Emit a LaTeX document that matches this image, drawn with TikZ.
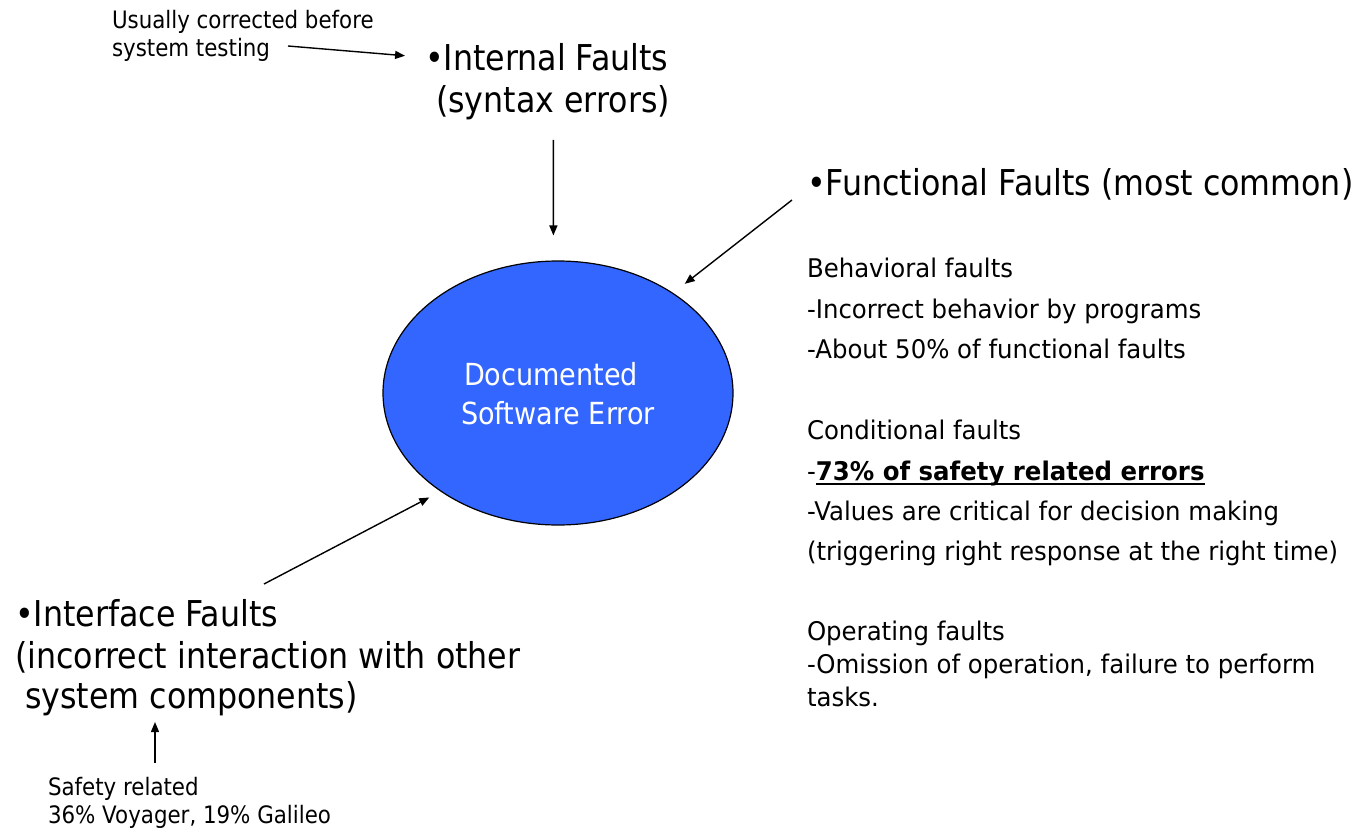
\documentclass[tikz,border=0pt]{standalone}
\usepackage{fontspec}
\setmainfont{DejaVu Sans}[FakeStretch=0.89]
\newfontfamily\wfont{DejaVu Sans}[FakeStretch=0.95]
\usetikzlibrary{shapes.geometric,arrows.meta}
\definecolor{ellblue}{HTML}{3366FF}
\newsavebox{\ulbox}
\newcommand{\myuline}[1]{\sbox{\ulbox}{#1}\rlap{\raisebox{-5pt}{\rule{\wd\ulbox}{2pt}}}\usebox{\ulbox}}
\tikzset{
  txt/.style={inner sep=0pt, outer sep=0pt, anchor=base west},
  bigtxt/.style={txt, font=\fontsize{35.6}{42}\selectfont},
  midtxt/.style={txt, font=\wfont\fontsize{25.7}{30}\selectfont},
  smalltxt/.style={txt, font=\fontsize{24}{28}\selectfont},
  ctrtxt/.style={inner sep=0pt, anchor=base, text=white, font=\fontsize{30.4}{36}\selectfont},
  arr/.style={line width=1.4pt, -{Triangle[length=10pt,width=8pt]}},
}
\begin{document}
\begin{tikzpicture}[x=1pt,y=-1pt]
\useasboundingbox (0,0) rectangle (1359,829);

% central ellipse
\node[ellipse, draw=black, line width=1.2pt, fill=ellblue, minimum width=350pt, minimum height=264pt, inner sep=0pt] (ell) at (558,393) {};
\node[ctrtxt] (doc1) at (551,385) {Documented};
\node[ctrtxt] (doc2) at (558,424) {Software Error};

% top annotation
\node[smalltxt] (usu1) at (112,28.3) {Usually corrected before};
\node[smalltxt] (usu2) at (112,56.7) {system testing};

% internal faults
\node[bigtxt] (int1) at (425,70.7) {•Internal Faults};
\node[bigtxt] (int2) at (436,113) {(syntax errors)};

% functional faults
\node[bigtxt] (fun1) at (807,195.7) {•Functional Faults (most common)};

% right block
\node[midtxt] (beh1) at (807,277.7) {Behavioral faults};
\node[midtxt] (beh2) at (807,318.3) {-Incorrect behavior by programs};
\node[midtxt] (beh3) at (807,358.8) {-About 50\% of functional faults};
\node[midtxt] (con1) at (807,439.3) {Conditional faults};
\node[midtxt] (con2) at (807,480) {-\myuline{\textbf{73\% of safety related errors}}};
\node[midtxt] (con3) at (807,520) {-Values are critical for decision making};
\node[midtxt] (con4) at (807,560) {(triggering right response at the right time)};
\node[midtxt] (ope1) at (807,640) {Operating faults};
\node[midtxt] (ope2) at (807,673.3) {-Omission of operation, failure to perform};
\node[midtxt] (ope3) at (807,706.7) {tasks.};

% interface faults
\node[bigtxt] (ifc1) at (15,626) {•Interface Faults};
\node[bigtxt] (ifc2) at (15,668) {(incorrect interaction with other};
\node[bigtxt] (ifc3) at (25,708) {system components)};

% safety annotation
\node[smalltxt] (saf1) at (48,795) {Safety related};
\node[smalltxt] (saf2) at (48,823) {36\% Voyager, 19\% Galileo};

% connector end points
\coordinate (usuS) at (288,46);
\coordinate (intS) at (553.4,140);
\coordinate (funS) at (792,200);
\coordinate (ifcS) at (264,584);
\coordinate (safS) at (155,763);
\coordinate (safE) at (155,722);

% connectors
\draw[arr, shorten >=20pt] (usuS) -- (int1.west);
\draw[arr, shorten >=25pt] (intS) -- (ell.92);
\draw[arr, shorten >=14.7pt] (funS) -- (ell.41);
\draw[arr, shorten >=12.7pt] (ifcS) -- (ell.220);
\draw[arr] (safS) -- (safE);
\end{tikzpicture}
\end{document}
